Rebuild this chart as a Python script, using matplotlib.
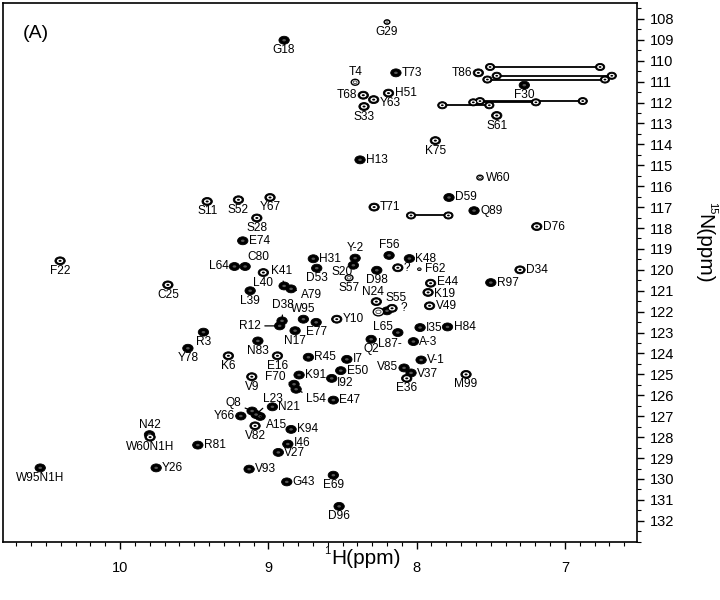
import matplotlib
matplotlib.use('Agg')
import matplotlib.pyplot as plt
from matplotlib.patches import Ellipse
from matplotlib.ticker import MultipleLocator

plt.rcParams['font.family'] = ['Liberation Sans', 'DejaVu Sans']

# ---------------- data (ppm) ----------------
labels = ['G18', 'G29', 'T4', 'T73', 'T68', 'Y63', 'H51', 'S33', 'T86', 'F30',
          'S61', 'K75', 'H13', 'W60', 'D59', 'Q89', 'T71', 'D76', 'D34', 'R97',
          'S11', 'S52', 'Y67', 'S28', 'E74', 'L64', 'C80', 'L40', 'L39', 'K41',
          'A79', 'H31', 'D53', 'Y-2', 'S20', 'S57', 'F56', 'K48', '?', 'F62',
          'D98', 'E44', 'K19', 'V49', 'N24', 'S55', '?', 'L65', 'L87', 'A-3',
          'I35', 'H84', 'Y10', 'W95', 'E77', 'D38', 'R12', 'N17', 'Q2', 'N83',
          'R3', 'Y78', 'K6', 'E16', 'R45', 'I7', 'V-1', 'E50', 'I92', 'K91',
          'F70', 'L54', 'E47', 'V85', 'V37', 'E36', 'M99', 'V9', 'Q8', 'L23',
          'A15', 'N21', 'Y66', 'V82', 'K94', 'I46', 'V27', 'V93', 'G43', 'E69',
          'D96', 'N42', 'W60N1H', 'R81', 'Y26', 'W95N1H', 'F22', 'C25']

h_ppm = [8.894, 8.20, 8.415, 8.14, 8.36, 8.29, 8.19, 8.355, 7.584, 7.274,
         7.46, 7.874, 8.382, 7.573, 7.782, 7.613, 8.287, 7.19, 7.303, 7.50,
         9.413, 9.202, 8.989, 9.078, 9.173, 9.229, 9.157, 9.034, 9.123, 8.894,
         8.847, 8.697, 8.674, 8.415, 8.427, 8.456, 8.186, 8.049, 8.127, 7.982,
         8.269, 7.906, 7.923, 7.913, 8.272, 8.20, 8.166, 8.258, 8.127, 8.022,
         7.977, 7.792, 8.539, 8.764, 8.678, 8.908, 8.924, 8.82, 8.307, 9.071,
         9.438, 9.543, 9.27, 8.939, 8.730, 8.471, 7.970, 8.512, 8.573, 8.793,
         8.827, 8.813, 8.562, 8.085, 8.038, 8.067, 7.667, 9.112, 9.11, 9.083,
         9.056, 8.973, 9.186, 9.09, 8.847, 8.869, 8.933, 9.13, 8.876, 8.562,
         8.523, 9.802, 9.798, 9.476, 9.757, 10.539, 10.405, 9.678]

n_ppm = [109.02, 108.15, 111.03, 110.58, 111.65, 111.86, 111.55, 112.19, 110.58, 111.17,
         112.62, 113.82, 114.74, 115.59, 116.54, 117.17, 117.00, 117.93, 120.00, 120.61,
         116.73, 116.65, 116.54, 117.52, 118.61, 119.84, 119.84, 120.13, 121.00, 120.77,
         120.91, 119.47, 119.92, 119.44, 119.78, 120.38, 119.31, 119.46, 119.90, 119.97,
         120.02, 120.64, 121.08, 121.72, 121.52, 121.96, 121.84, 122.01, 123.00, 123.43,
         122.76, 122.73, 122.36, 122.36, 122.51, 122.44, 122.68, 122.91, 123.32, 123.40,
         122.98, 123.75, 124.11, 124.11, 124.18, 124.28, 124.31, 124.82, 125.19, 125.03,
         125.47, 125.71, 126.23, 124.69, 124.93, 125.19, 125.00, 125.11, 126.75, 126.92,
         127.01, 126.55, 126.99, 127.46, 127.63, 128.33, 128.73, 129.53, 130.14, 129.82,
         131.31, 127.88, 128.00, 128.38, 129.47, 129.47, 119.57, 120.72]

# side-chain NH2 pairs (connected by lines)
pair_n = [110.30, 110.72, 110.90, 112.13, 111.99, 111.93, 117.40]
pair_h1 = [7.505, 7.460, 7.523, 7.827, 7.618, 7.573, 8.038]
pair_h2 = [6.763, 6.684, 6.730, 7.510, 7.196, 6.880, 7.786]

x_ticks = [10, 9, 8, 7]
y_ticks = list(range(108, 133))

# ---------------- styles ----------------
solid = {'T73', 'H13', 'R3', 'Y78', 'N42', 'W95N1H', 'D96', 'G43', 'E47', 'I35',
         'R97', 'Q89', 'F56', 'K48', 'D98', 'Q2', 'N83', 'R45', 'I7', 'V-1',
         'K91', 'I92', 'E50', 'N21', 'Y66', 'K94', 'I46', 'L87', 'D53', 'L39',
         'L64', 'C80', 'Y-2', 'S20', 'F30', 'V37', 'V85', 'E74', 'H31', 'K41',
         'A79', 'S55', 'W95', 'E77', 'D38', 'R12', 'F70', 'L54', 'Q8', 'L23',
         'A15', 'D59', 'G18', 'N17', 'R81', 'Y26', 'V93', 'E69',
         'H84', 'A-3', 'V27'}
openp = {'T4', 'S57', 'L65', 'W60'}
small = {'F62': 0.35, 'W60': 0.6, 'T4': 0.75, 'S57': 0.75, 'G29': 0.6}

place = {
    'b': dict(off=(0, -4), ha='center', va='top'),
    'a': dict(off=(0, 4), ha='center', va='bottom'),
    'r': dict(off=(6, 0), ha='left', va='center'),
    'l': dict(off=(-6, 0), ha='right', va='center'),
}
label_place = {
    'G18': 'b', 'G29': 'b', 'T4': 'a', 'T73': 'r', 'T68': 'l', 'H51': 'r',
    'S33': 'b', 'T86': 'l', 'F30': 'b', 'S61': 'b', 'K75': 'b', 'H13': 'r', 'W60': 'r',
    'D59': 'r', 'Q89': 'r', 'T71': 'r', 'D76': 'r', 'D34': 'r', 'R97': 'r', 'S11': 'b',
    'S52': 'b', 'Y67': 'b', 'S28': 'b', 'E74': 'r', 'L64': 'l', 'L40': 'b', 'L39': 'b',
    'H31': 'r', 'D53': 'b', 'Y-2': 'a', 'S57': 'b', 'F56': 'a', 'K48': 'r', 'F62': 'r',
    'D98': 'b', 'V49': 'r', 'A-3': 'r', 'I35': 'r',
    'H84': 'r', 'Y10': 'r', 'W95': 'a', 'E77': 'b', 'N17': 'b', 'Q2': 'b', 'N83': 'b',
    'R3': 'b', 'Y78': 'b', 'K6': 'b', 'E16': 'b', 'R45': 'r', 'I7': 'r', 'V-1': 'r',
    'E50': 'r', 'K91': 'r', 'E47': 'r', 'E36': 'b', 'M99': 'b', 'V9': 'b', 'N21': 'r',
    'Y66': 'l', 'V82': 'b', 'K94': 'r', 'V93': 'r', 'G43': 'r',
    'E69': 'b', 'D96': 'b', 'N42': 'a', 'W60N1H': 'b', 'R81': 'r', 'Y26': 'r',
    'W95N1H': 'b', 'F22': 'b', 'C25': 'b',
}
# custom placements: (dx px, dy px, ha, leader line, text)
custom = {
    'Y63': (6, -3, 'left', False, None),
    'C80': (13, 9, 'center', False, None),
    'K41': (-3, 15, 'center', True, None),
    'A79': (20, -6, 'center', True, None),
    'S20': (-1, -7, 'right', False, None),
    'N24': (-3, 10, 'center', False, None),
    'S55': (9, 13, 'center', False, None),
    'L65': (5, -15, 'center', False, None),
    'L87': (-8, -11, 'center', False, 'L87-'),
    'D38': (1, 16, 'center', True, None),
    'R12': (-19, 0, 'right', True, None),
    'I92': (5, -5, 'left', False, None),
    'F70': (-9, 7, 'right', True, None),
    'L54': (10, -10, 'left', True, None),
    'V85': (-6, 1, 'right', False, None),
    'V37': (6, -1, 'left', False, None),
    'Q8': (-11, 8, 'right', True, None),
    'L23': (17, 16, 'center', True, None),
    'A15': (6, -9, 'left', True, None),
    'E44': (6, 1, 'left', False, None),
    'K19': (6, -1.5, 'left', False, None),
    'I46': (6, 1.5, 'left', False, None),
    'V27': (6, -1, 'left', False, None),
}
q_place = ['r', (8, 0, 'left', False, None)]

# ---------------- figure ----------------
fig = plt.figure(figsize=(7.2, 6.0), dpi=100)
ax = fig.add_axes([3 / 720, 1 - 541.7 / 600, 634 / 720, 538.7 / 600])
ax.set_xlim(10.79, 6.514)
ax.set_ylim(133.0, 107.24)

W, H = 0.07, 0.38


def draw_peak(h, n, kind='ring', s=1.0):
    w, hh = W * s, H * s
    if kind == 'solid':
        ax.add_patch(Ellipse((h, n), w, hh, fc='black', ec='black', lw=0.6, zorder=3))
        ax.add_patch(Ellipse((h, n), w * 0.35, hh * 0.3, fc='#555555', ec='none', zorder=4))
    elif kind == 'open':
        ax.add_patch(Ellipse((h, n), w, hh, fc='white', ec='black', lw=1.0, zorder=3))
        ax.add_patch(Ellipse((h, n), w * 0.5, hh * 0.45, fc='none', ec='#444444', lw=0.6, zorder=4))
    else:
        ax.add_patch(Ellipse((h, n), w, hh, fc='black', ec='black', lw=0.6, zorder=3))
        ax.add_patch(Ellipse((h, n), w * 0.62, hh * 0.55, fc='white', ec='none', zorder=4))
        ax.add_patch(Ellipse((h, n), w * 0.3, hh * 0.25, fc='black', ec='none', zorder=5))


fs = 8.6
qcount = 0
for lab, h, n in zip(labels, h_ppm, n_ppm):
    kind = 'solid' if lab in solid else ('open' if lab in openp else 'ring')
    draw_peak(h, n, kind, small.get(lab, 1.0))
    if lab == '?':
        spec = q_place[qcount]
        qcount += 1
    elif lab in custom:
        spec = custom[lab]
    else:
        spec = label_place.get(lab, 'r')
    if isinstance(spec, str):
        p = place[spec]
        ax.annotate(lab, (h, n), xytext=p['off'], textcoords='offset pixels',
                    ha=p['ha'], va=p['va'], fontsize=fs, zorder=6)
    else:
        dx, dy, ha, line, txt = spec
        arrow = dict(arrowstyle='-', lw=0.9, color='black', shrinkA=1, shrinkB=2) if line else None
        ax.annotate(txt or lab, (h, n), xytext=(dx, dy), textcoords='offset pixels',
                    ha=ha, va='center', fontsize=fs, zorder=6, arrowprops=arrow)

for n, h1, h2 in zip(pair_n, pair_h1, pair_h2):
    ax.plot([h1, h2], [n, n], color='black', lw=1.3, zorder=2)
    draw_peak(h1, n, 'ring', 0.9)
    draw_peak(h2, n, 'ring', 0.9)

# ---------------- axes styling ----------------
ax.xaxis.set_minor_locator(MultipleLocator(0.1))
ax.yaxis.set_minor_locator(MultipleLocator(0.5))
ax.set_xticks(x_ticks)
ax.set_yticks(y_ticks)
ax.yaxis.tick_right()
ax.tick_params(axis='both', which='major', direction='out', length=5, width=1.0,
               labelsize=10.5, pad=4)
ax.tick_params(axis='both', which='minor', direction='out', length=3, width=0.8)
ax.tick_params(axis='x', which='both', top=False)
ax.tick_params(axis='y', which='both', left=False)
ax.xaxis.set_tick_params(pad=9)
for sp in ax.spines.values():
    sp.set_linewidth(1.2)

# axis titles with superscript isotopes
fig.text(331 / 720, 1 - 559 / 600, 'H(ppm)', ha='left', va='center', fontsize=15)
fig.text(330 / 720, 1 - 551 / 600, '1', ha='right', va='center', fontsize=8)
fig.text(704 / 720, 1 - 214 / 600, 'N(ppm)', ha='center', va='top', fontsize=15,
         rotation=270)
fig.text(712 / 720, 1 - 214 / 600, '15', ha='center', va='bottom', fontsize=8,
         rotation=270)
fig.text(36 / 720, 1 - 33 / 600, '(A)', ha='center', va='center', fontsize=14)

fig.savefig('out.png', dpi=100)
